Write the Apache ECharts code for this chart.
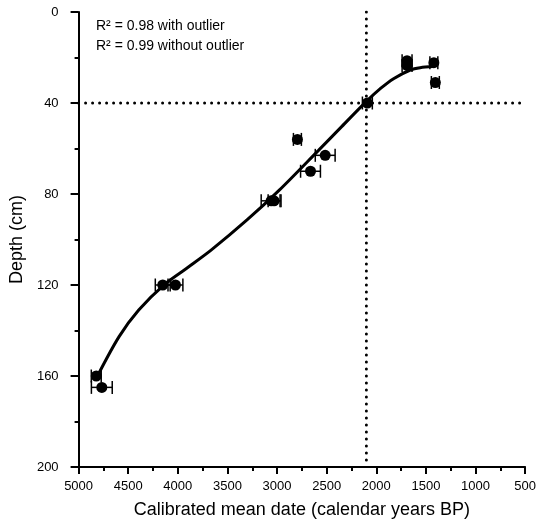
<!DOCTYPE html>
<html>
<head>
<meta charset="utf-8">
<script src="https://cdn.jsdelivr.net/npm/echarts@6/dist/echarts.min.js"></script>
<style>html,body{margin:0;padding:0;background:#fff;}#c{width:539px;height:524px;}</style>
</head>
<body>
<div id="c"></div>
<script>
// Data
const dates = [4822, 4766, 4152, 4024, 3060, 3030, 2663, 2515, 2795, 2090, 1690, 1690, 1420, 1405];
const depths = [160, 165, 120, 120, 83, 83, 70, 63, 56, 40, 21.4, 23.5, 22.3, 31];
const errors = [50, 105, 75, 75, 100, 60, 100, 100, 40, 50, 50, 50, 40, 40];
const curveDates = [4810, 4592, 4394, 4130, 3900, 3668, 3300, 2975, 2580, 2349, 2102, 1954, 1822, 1657, 1558, 1427];
const curveDepths = [160, 142.7, 131.0, 119.6, 112.3, 104.8, 91.3, 78.2, 60.7, 50.4, 39.4, 33.5, 29.2, 25.5, 24.5, 24.0];
const refDate = 2100;
const refDepth = 40;
const vLineDepthRange = [0, 197];
const hLineDateRange = [5000, 550];
const annotations = ['R\u00b2 = 0.98 with outlier', 'R\u00b2 = 0.99 without outlier'];

const FONT = '"Liberation Sans", Arial, sans-serif';
const chart = echarts.init(document.getElementById('c'), null, {renderer: 'canvas'});

const pts = dates.map((d, i) => [d, depths[i], errors[i]]);
const curve = curveDates.map((d, i) => [d, curveDepths[i]]);

chart.setOption({
  animation: false,
  backgroundColor: '#fff',
  grid: {left: 72, right: 12, top: 12, bottom: 57, containLabel: false},
  xAxis: {
    type: 'value', inverse: true, min: 500, max: 5000, interval: 500,
    name: 'Calibrated mean date (calendar years BP)', nameLocation: 'middle', nameGap: 34,
    nameTextStyle: {fontFamily: FONT, fontSize: 18, color: '#000'},
    axisLine: {show: true, onZero: false, lineStyle: {color: '#000', width: 2}},
    axisTick: {show: true, length: 7, lineStyle: {color: '#000', width: 2}},
    minorTick: {show: true, splitNumber: 2, length: 4, lineStyle: {color: '#000', width: 2}},
    axisLabel: {fontFamily: FONT, fontSize: 13, color: '#000', margin: 13,
      formatter: v => String(v)},
    splitLine: {show: false}
  },
  yAxis: {
    type: 'value', inverse: true, min: 0, max: 200, interval: 40,
    name: 'Depth (cm)', nameLocation: 'middle', nameGap: 46, nameRotate: 90,
    nameTextStyle: {fontFamily: FONT, fontSize: 18, color: '#000'},
    axisLine: {show: true, onZero: false, lineStyle: {color: '#000', width: 2}},
    axisTick: {show: true, length: 8, lineStyle: {color: '#000', width: 2}},
    minorTick: {show: true, splitNumber: 2, length: 4, lineStyle: {color: '#000', width: 2}},
    axisLabel: {fontFamily: FONT, fontSize: 13, color: '#000', margin: 20,
      formatter: v => String(v)},
    splitLine: {show: false}
  },
  graphic: annotations.map((t, i) => ({
    type: 'text', left: 96, top: 19 + i * 20,
    style: {text: t, fontFamily: FONT, fontSize: 14, fill: '#000'}
  })),
  series: [
    {
      type: 'line', data: [[refDate, vLineDepthRange[0]], [refDate, vLineDepthRange[1]]],
      symbol: 'none', silent: true,
      lineStyle: {color: '#000', width: 3, type: [0, 7], cap: 'round'}, z: 1
    },
    {
      type: 'line', data: [[hLineDateRange[0], refDepth], [hLineDateRange[1], refDepth]],
      symbol: 'none', silent: true,
      lineStyle: {color: '#000', width: 3, type: [0, 7], cap: 'round'}, z: 1
    },
    {
      type: 'line', data: curve, smooth: 0.3, symbol: 'none',
      lineStyle: {color: '#000', width: 3}, z: 3
    },
    {
      type: 'custom', data: pts, z: 4,
      renderItem: function (params, api) {
        const x = api.value(0), y = api.value(1), e = api.value(2);
        const a = api.coord([x - e, y]);
        const b = api.coord([x + e, y]);
        const h = 6.5;
        const st = {stroke: '#000', lineWidth: 1.5};
        return {type: 'group', children: [
          {type: 'line', shape: {x1: a[0], y1: a[1], x2: b[0], y2: b[1]}, style: st},
          {type: 'line', shape: {x1: a[0], y1: a[1] - h, x2: a[0], y2: a[1] + h}, style: st},
          {type: 'line', shape: {x1: b[0], y1: b[1] - h, x2: b[0], y2: b[1] + h}, style: st}
        ]};
      }
    },
    {
      type: 'scatter', data: pts.map(p => [p[0], p[1]]), symbol: 'circle', symbolSize: 11,
      itemStyle: {color: '#000', opacity: 1}, z: 5
    }
  ]
});
</script>
</body>
</html>
